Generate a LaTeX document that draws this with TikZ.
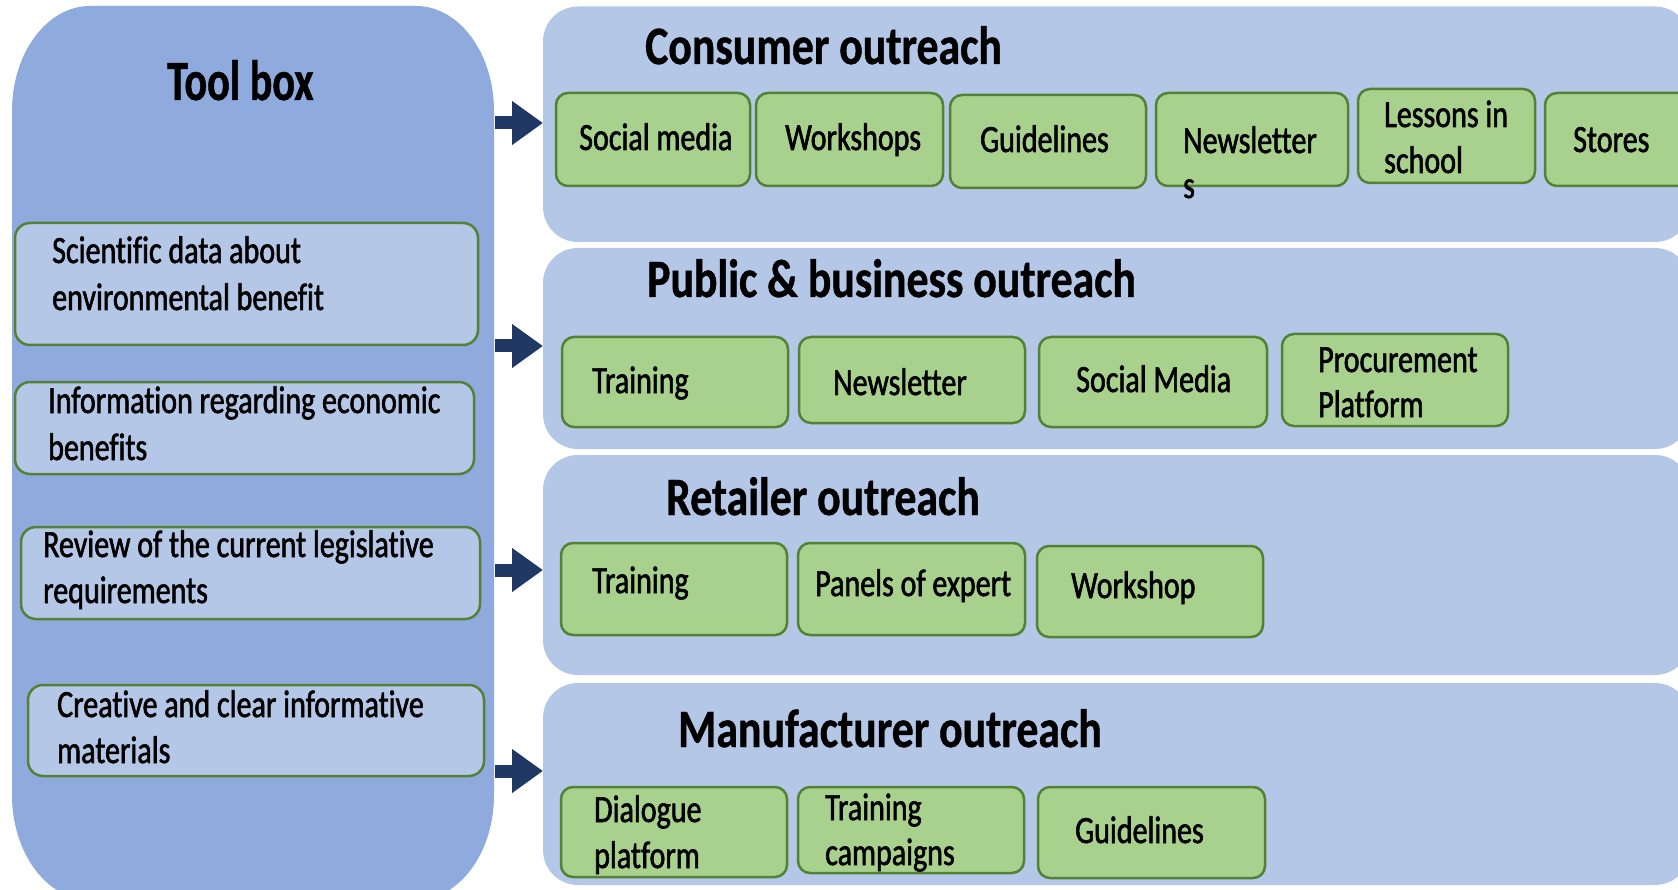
\documentclass[tikz,border=0pt]{standalone}
\usepackage{fontspec}
\usetikzlibrary{arrows.meta}
\newfontfamily\boxfnt[FakeStretch=0.78,FakeBold=1.5,Ligatures=NoCommon]{Carlito}
\newfontfamily\ttlfnt[FakeStretch=0.81,FakeBold=0.8,Ligatures=NoCommon]{Carlito}
\newfontfamily\toolfnt[FakeStretch=0.74,FakeBold=0.8]{Carlito}
\definecolor{tbblue}{HTML}{8FAADC}
\definecolor{pnblue}{HTML}{B4C7E7}
\definecolor{gfill}{HTML}{A9D18E}
\definecolor{gline}{HTML}{538135}
\definecolor{navy}{HTML}{203864}
\newcommand\mkbox[6]{\node[#2, minimum width={(#4-#3)*1pt}, minimum height={(#6-#5)*1pt}] (#1) at ({(#3+#4)/2},{-(#5+#6)/2}) {};}
\newcommand\mktx[5]{\node[#2] (#1) at (#3,-#4) {#5};}
\begin{document}
\begin{tikzpicture}[x=1pt,y=1pt,
  panel/.style={fill=pnblue, draw=none, rounded corners=35pt, inner sep=0pt, outer sep=0pt},
  gbox/.style={fill=gfill, draw=gline, line width=2.5pt, rounded corners=12pt, inner sep=0pt, outer sep=0pt},
  ibox/.style={fill=pnblue, draw=gline, line width=2.5pt, rounded corners=15pt, inner sep=0pt, outer sep=0pt},
  txt/.style={inner sep=0pt, font=\boxfnt\fontsize{38.5}{46}\selectfont, anchor=base west},
  ttl/.style={inner sep=0pt, font=\ttlfnt\bfseries\fontsize{54}{60}\selectfont, anchor=base west},
  tool/.style={inner sep=0pt, font=\toolfnt\bfseries\fontsize{57}{62}\selectfont, anchor=base west},
  arr/.style={draw=navy, line width=13pt, -{Triangle[length=31pt,width=42pt]}}]
\useasboundingbox (0,0) rectangle (1678,-890);
\clip (0,0) rectangle (1678,-890);
\fill[white] (0,0) rectangle (1678,-890);
% tool box panel
\fill[tbblue] (12,-111) arc[start angle=180,end angle=90,x radius=78pt,y radius=105pt]
  -- (416,-6) arc[start angle=90,end angle=0,x radius=78pt,y radius=105pt]
  -- (494,-795) arc[start angle=0,end angle=-90,x radius=78pt,y radius=105pt]
  -- (90,-900) arc[start angle=270,end angle=180,x radius=78pt,y radius=105pt] -- cycle;
\mktx{tooltitle}{tool}{167}{100}{Tool box}
% tool box items
\mkbox{i1}{ibox}{15}{478}{223}{345}
\mktx{i1a}{txt}{52}{263}{Scientific data about}
\mktx{i1b}{txt}{52}{310}{environmental benefit}
\mkbox{i2}{ibox}{15}{474}{382}{474}
\mktx{i2a}{txt}{48}{413}{Information regarding economic}
\mktx{i2b}{txt}{48}{460}{benefits}
\mkbox{i3}{ibox}{21}{480}{527}{619}
\mktx{i3a}{txt}{43}{557}{Review of the current legislative}
\mktx{i3b}{txt}{43}{603}{requirements}
\mkbox{i4}{ibox}{28}{484}{685}{776}
\mktx{i4a}{txt}{57}{717}{Creative and clear informative}
\mktx{i4b}{txt}{57}{763}{materials}
% outreach panels
\mkbox{p1}{panel}{543}{1690}{6.5}{242}
\mkbox{p2}{panel}{543}{1690}{248}{449}
\mkbox{p3}{panel}{543}{1690}{455}{675}
\mkbox{p4}{panel}{543}{1690}{683}{885}
% arrows
\coordinate (tb1) at (495,-123);
\coordinate (tb2) at (495,-346);
\coordinate (tb3) at (495,-570);
\coordinate (tb4) at (495,-771);
\draw[arr] (tb1) -- (p1.west |- tb1);
\draw[arr] (tb2) -- (p2.west |- tb2);
\draw[arr] (tb3) -- (p3.west |- tb3);
\draw[arr] (tb4) -- (p4.west |- tb4);
% titles
\mktx{t1}{ttl}{645}{64}{Consumer outreach}
\mktx{t2}{ttl}{647}{297}{Public \& business outreach}
\mktx{t3}{ttl}{666}{515}{Retailer outreach}
\mktx{t4}{ttl}{678}{747}{Manufacturer outreach}
% consumer
\mkbox{c1}{gbox}{556}{750}{93}{186}
\mktx{c1a}{txt}{579}{150}{Social media}
\mkbox{c2}{gbox}{756}{943}{93}{186}
\mktx{c2a}{txt}{785}{150}{Workshops}
\mkbox{c3}{gbox}{950}{1146}{95}{188}
\mktx{c3a}{txt}{980}{152}{Guidelines}
\mkbox{c4}{gbox}{1156}{1348}{93}{186}
\mktx{c4a}{txt}{1183}{153}{Newsletter}
\mktx{c4b}{txt}{1183}{198}{s}
\mkbox{c5}{gbox}{1358}{1535}{89}{183}
\mktx{c5a}{txt}{1384}{127}{Lessons in}
\mktx{c5b}{txt}{1384}{173}{school}
\mkbox{c6}{gbox}{1545}{1720}{93}{186}
\mktx{c6a}{txt}{1573}{152}{Stores}
% public
\mkbox{b1}{gbox}{562}{788}{337}{427}
\mktx{b1a}{txt}{592}{393}{Training}
\mkbox{b2}{gbox}{799}{1025}{337}{423}
\mktx{b2a}{txt}{833}{395}{Newsletter}
\mkbox{b3}{gbox}{1039}{1267}{337}{427}
\mktx{b3a}{txt}{1076}{392}{Social Media}
\mkbox{b4}{gbox}{1282}{1508}{334}{426}
\mktx{b4a}{txt}{1318}{372}{Procurement}
\mktx{b4b}{txt}{1318}{417}{Platform}
% retailer
\mkbox{r1}{gbox}{561}{787}{543}{635}
\mktx{r1a}{txt}{592}{593}{Training}
\mkbox{r2}{gbox}{798}{1025}{543}{635}
\mktx{r2a}{txt}{815}{596}{Panels of expert}
\mkbox{r3}{gbox}{1037}{1263}{546}{637}
\mktx{r3a}{txt}{1071}{598}{Workshop}
% manufacturer
\mkbox{m1}{gbox}{561}{787}{787}{877}
\mktx{m1a}{txt}{594}{822}{Dialogue}
\mktx{m1b}{txt}{594}{868}{platform}
\mkbox{m2}{gbox}{798}{1024}{787}{873}
\mktx{m2a}{txt}{825}{820}{Training}
\mktx{m2b}{txt}{825}{865}{campaigns}
\mkbox{m3}{gbox}{1038}{1265}{787}{878}
\mktx{m3a}{txt}{1075}{843}{Guidelines}
\end{tikzpicture}
\end{document}
